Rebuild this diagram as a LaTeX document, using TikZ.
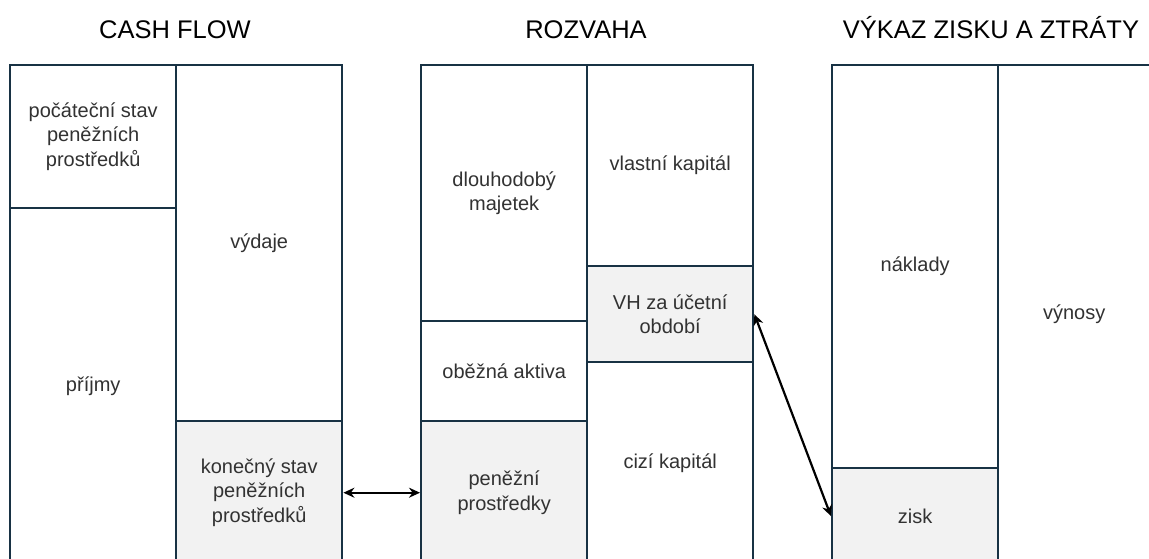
\documentclass[tikz,border=0pt]{standalone}
\usepackage{fontspec}
\setmainfont{Liberation Sans}
\usetikzlibrary{arrows.meta}
\definecolor{edge}{RGB}{24,50,68}
\definecolor{shade}{RGB}{242,242,242}
\definecolor{txt}{RGB}{50,50,50}
\tikzset{
  cell/.style={draw=edge, line width=2.4pt, anchor=north west, inner sep=0pt,
    align=center, text=txt, font=\fontsize{20}{24.5}\selectfont},
  gray/.style={fill=shade},
  title/.style={anchor=base, font=\fontsize{25.5}{30}\selectfont, text=black},
  arr/.style={{Stealth[length=11pt,width=10pt]}-{Stealth[length=11pt,width=10pt]}, line width=2.2pt, black}
}
\begin{document}
\begin{tikzpicture}[x=1pt,y=-1pt]
\useasboundingbox (0,0) rectangle (1149,558);
\clip (0,0) rectangle (1149,558);
\fill[white] (0,0) rectangle (1149,558);
% titles
\node[title] (t1) at (175,38) {CASH FLOW};
\node[title] (t2) at (586,38) {ROZVAHA};
\node[title] (t3) at (991,38) {VÝKAZ ZISKU A ZTRÁTY};
% cash flow
\node[cell, minimum width=166pt, minimum height=143pt] (pocatek) at (9,64) {počáteční stav\\peněžních\\prostředků};
\node[cell, minimum width=166pt, minimum height=356pt] (prijmy) at (9,207) {příjmy};
\node[cell, minimum width=166pt, minimum height=356pt] (vydaje) at (175,64) {výdaje};
\node[cell, gray, minimum width=166pt, minimum height=143pt] (konecny) at (175,420) {konečný stav\\peněžních\\prostředků};
% rozvaha
\node[cell, minimum width=166pt, minimum height=256pt] (dlouh) at (420,64) {dlouhodobý\\majetek};
\node[cell, minimum width=166pt, minimum height=100pt] (obezna) at (420,320) {oběžná aktiva};
\node[cell, gray, minimum width=166pt, minimum height=143pt] (penezni) at (420,420) {peněžní\\prostředky};
\node[cell, minimum width=166pt, minimum height=201pt] (vlastni) at (586,64) {vlastní kapitál};
\node[cell, gray, minimum width=166pt, minimum height=96pt] (vh) at (586,265) {VH za účetní\\období};
\node[cell, minimum width=166pt, minimum height=202pt] (cizi) at (586,361) {cizí kapitál};
% vykaz
\node[cell, minimum width=166pt, minimum height=403pt] (naklady) at (831,64) {náklady};
\node[cell, gray, minimum width=166pt, minimum height=96pt] (zisk) at (831,467) {zisk};
\node[cell, minimum width=166pt, minimum height=499pt] (vynosy) at (997,64) {\hspace*{-14pt}výnosy};
% connectors
\draw[arr] (konecny.east) -- (penezni.west);
\draw[arr] (vh.east) -- (zisk.west);
\end{tikzpicture}
\end{document}
